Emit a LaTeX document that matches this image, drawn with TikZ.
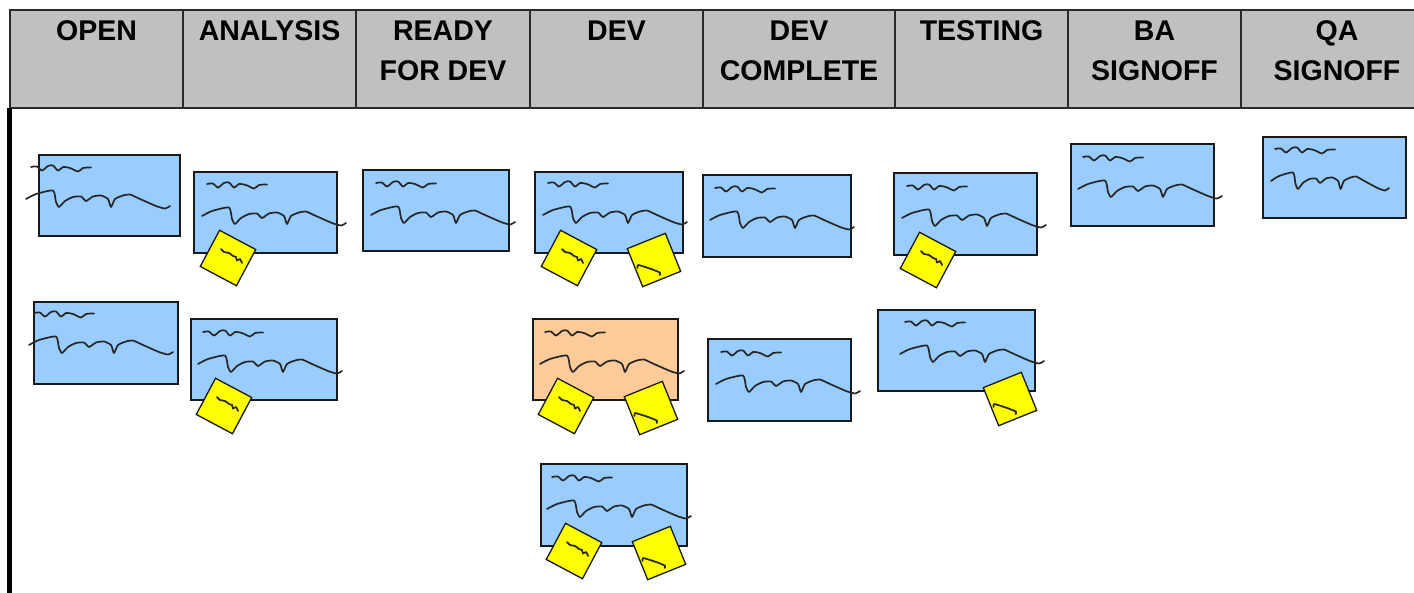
\documentclass[tikz,border=0pt]{standalone}
\usepackage{fontspec}
\setmainfont{Liberation Sans}
\definecolor{cardblue}{HTML}{99CCFF}
\definecolor{cardorange}{HTML}{FFCC99}
\definecolor{stickyyellow}{HTML}{FFFF00}
\definecolor{hdrgray}{HTML}{C0C0C0}
\definecolor{hdrline}{HTML}{2A2A2A}
\tikzset{
  scribshort/.pic={\draw[ink] plot[smooth,tension=0.5] coordinates {(0,0) (6,-0.5) (11,3.5) (17,-1) (22,-1.5) (27,3.5) (32,0) (39,1) (47,4.5) (52,1) (60,0.5)};},
  scriblong/.pic={\draw[ink] plot[smooth,tension=0.35] coordinates {(-5,32) (5,27) (22,23.5) (25,35) (28,40) (34,34) (42,30) (50,29.5) (55,34) (62,29.5) (70,28.5) (77,32) (80,40) (84,32) (92,28.5) (99,27.5) (109,32) (125,39) (134,41.5) (139,39)};},
  scrib/.pic={\pic{scribshort}; \pic{scriblong};},
  lscrib/.pic={\draw[ink] plot[smooth,tension=0.5] coordinates {(-7,-9) (-4,-6) (1,-5) (5,-2) (8,-1) (9,2.5) (12,1) (14,5)};},
  rscrib/.pic={\draw[ink] plot[smooth,tension=0.4] coordinates {(-16.5,8) (-16,5) (-10.5,6.5) (-2,9.3) (6,12.7) (5.5,15)};}
}
\begin{document}
\begin{tikzpicture}[x=1pt,y=-1pt,
  ink/.style={draw=black!85, line width=1.7pt, line cap=round, line join=round},
  card/.style={draw=black!90, line width=1.4pt, inner sep=0pt, outer sep=0pt, anchor=north west},
  bluecard/.style={card, fill=cardblue},
  orangecard/.style={card, fill=cardorange},
  sticky/.style={draw=black!90, line width=1.3pt, fill=stickyyellow, minimum size=41pt, inner sep=0pt},
  lsticky/.style={sticky, rotate=-28},
  rsticky/.style={sticky, rotate=22},
  hcell/.style={draw=hdrline, line width=2pt, fill=hdrgray, minimum height=98pt, anchor=north west, inner sep=0pt, outer sep=0pt},
  hlabel/.style={anchor=north, inner sep=0pt, align=center, text=black, font=\bfseries\fontsize{28.5}{40}\selectfont}
]
\path[use as bounding box, clip] (0,0) rectangle (1414,592);
\fill[white] (0,0) rectangle (1414,592);

% header cells
\node[hcell, minimum width=173pt] (h1) at (10,10) {};
\node[hcell, minimum width=173pt] (h2) at (183,10) {};
\node[hcell, minimum width=174pt] (h3) at (356,10) {};
\node[hcell, minimum width=173pt] (h4) at (530,10) {};
\node[hcell, minimum width=192pt] (h5) at (703,10) {};
\node[hcell, minimum width=173pt] (h6) at (895,10) {};
\node[hcell, minimum width=173pt] (h7) at (1068,10) {};
\node[hcell, minimum width=192pt] (h8) at (1241,10) {};

\node[hlabel] (t1) at ([yshift=-10.7pt]h1.north) {OPEN};
\node[hlabel] (t2) at ([yshift=-10.7pt]h2.north) {ANALYSIS};
\node[hlabel] (t3) at ([yshift=-10.7pt]h3.north) {READY\\FOR DEV};
\node[hlabel] (t4) at ([yshift=-10.7pt]h4.north) {DEV};
\node[hlabel] (t5) at ([yshift=-10.7pt]h5.north) {DEV\\COMPLETE};
\node[hlabel] (t6) at ([yshift=-10.7pt]h6.north) {TESTING};
\node[hlabel] (t7) at ([yshift=-10.7pt]h7.north) {BA\\SIGNOFF};
\node[hlabel] (t8) at ([yshift=-10.7pt]h8.north) {QA\\SIGNOFF};

% board left edge
\draw[line width=4.5pt, black] ([xshift=-0.5pt]h1.south west) -- ++(0,500);

% cards
\node[bluecard, minimum width=141pt, minimum height=81pt] (c1) at (39,155) {};
\node[bluecard, minimum width=143pt, minimum height=81pt] (c2) at (194,172) {};
\node[bluecard, minimum width=146pt, minimum height=81pt] (c3) at (363,170) {};
\node[bluecard, minimum width=148pt, minimum height=81pt] (c4) at (535,172) {};
\node[bluecard, minimum width=148pt, minimum height=82pt] (c5) at (703,175) {};
\node[bluecard, minimum width=143pt, minimum height=82pt] (c6) at (894,173) {};
\node[bluecard, minimum width=143pt, minimum height=82pt] (c7) at (1071,144) {};
\node[bluecard, minimum width=143pt, minimum height=81pt] (c8) at (1263,137) {};
\node[bluecard, minimum width=144pt, minimum height=82pt] (c9) at (34,302) {};
\node[bluecard, minimum width=146pt, minimum height=81pt] (c10) at (191,319) {};
\node[orangecard, minimum width=145pt, minimum height=81pt] (c11) at (533,319) {};
\node[bluecard, minimum width=146pt, minimum height=82pt] (c12) at (541,464) {};
\node[bluecard, minimum width=143pt, minimum height=82pt] (c13) at (708,339) {};
\node[bluecard, minimum width=157pt, minimum height=81pt] (c14) at (878,310) {};

% scribbles on cards
\pic at (31,167) {scrib};
\pic at (207,184) {scrib};
\pic at (376,183) {scrib};
\pic at (548,183) {scrib};
\pic at (715,188) {scrib};
\pic at (907,186) {scrib};
\pic at (1083,157) {scrib};
\pic at (1275,149) {scribshort};
\pic[xscale=0.82] at (1275,149) {scriblong};
\pic at (34,313) {scrib};
\pic at (203,332) {scrib};
\pic at (545,332) {scrib};
\pic at (552,477) {scrib};
\pic at (721,352) {scrib};
\pic at (905,322) {scrib};

% sticky notes
\node[lsticky] (s1) at (228,258) {};
\node[lsticky] (s2) at (569,258) {};
\node[rsticky] (s3) at (654,260) {};
\node[lsticky] (s4) at (928,260) {};
\node[lsticky] (s5) at (224,406) {};
\node[lsticky] (s6) at (566,406) {};
\node[rsticky] (s7) at (651,408) {};
\node[lsticky] (s8) at (574,551) {};
\node[rsticky] (s9) at (659,553) {};
\node[rsticky] (s10) at (1010,399) {};

\pic at (s1) {lscrib};
\pic at (s2) {lscrib};
\pic at (s3) {rscrib};
\pic at (s4) {lscrib};
\pic at (s5) {lscrib};
\pic at (s6) {lscrib};
\pic at (s7) {rscrib};
\pic at (s8) {lscrib};
\pic at (s9) {rscrib};
\pic at (s10) {rscrib};
\end{tikzpicture}
\end{document}
